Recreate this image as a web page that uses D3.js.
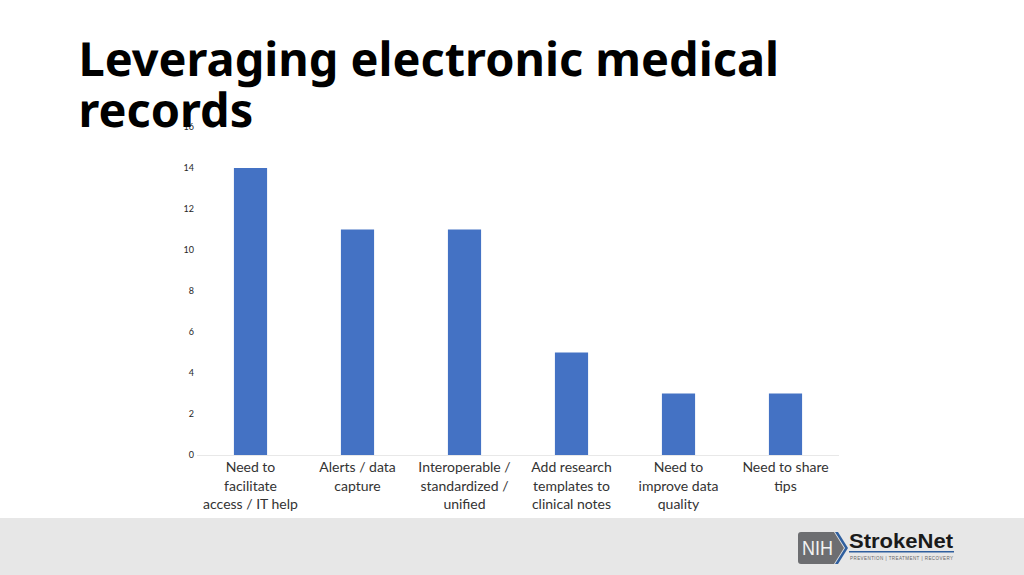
<!DOCTYPE html>
<html>
<head>
<meta charset="utf-8">
<script src="https://cdn.jsdelivr.net/npm/d3@7"></script>
<style>
html, body { margin: 0; padding: 0; background: #fff; overflow: hidden; }
text { font-family: Lato, "Liberation Sans", sans-serif; }
</style>
</head>
<body>
<div id="viz_div"></div>
<script>
var categories = [
	["Need to", "facilitate", "access / IT help"],
	["Alerts / data", "capture"],
	["Interoperable /", "standardized /", "unified"],
	["Add research", "templates to", "clinical notes"],
	["Need to", "improve data", "quality"],
	["Need to share", "tips"]
];
var values = [14, 11, 11, 5, 3, 3];
var y_ticks = [0, 2, 4, 6, 8, 10, 12, 14, 16];
var title_lines = ["Leveraging electronic medical", "records"];

var w = 1024, h = 575;

var svg = d3.select("#viz_div")
	.append("svg")
	.attr("width", w)
	.attr("height", h)
	.style("display", "block");

// footer band goes under everything else
svg.append("rect")
	.attr("x", 0).attr("y", 518)
	.attr("width", w).attr("height", h - 518)
	.attr("fill", "#e7e7e7");

var x = d3.scaleBand()
	.domain(d3.range(categories.length))
	.range([197, 839])
	.paddingInner(0.69)
	.paddingOuter(0.345);

var y = d3.scaleLinear()
	.domain([0, 16])
	.range([455, 127]);

var y_axis = d3.axisLeft(y).tickValues(y_ticks).tickSize(0).tickPadding(3);

var y_g = svg.append("g")
	.attr("transform", "translate(197,0)")
	.call(y_axis);
y_g.select(".domain").remove();
y_g.selectAll("text")
	.style("font-family", "Lato, sans-serif")
	.style("font-size", "9px")
	.attr("fill", "#262626");

svg.selectAll("rect.bar")
	.data(values)
	.enter()
	.append("rect")
	.attr("class", "bar")
	.attr("x", function(d, i) { return x(i); })
	.attr("y", function(d) { return y(d); })
	.attr("width", x.bandwidth())
	.attr("height", function(d) { return y(0) - y(d); })
	.attr("fill", "#4472c4");

// baseline
svg.append("line")
	.attr("x1", 197).attr("x2", 839)
	.attr("y1", y(0) + 0.5).attr("y2", y(0) + 0.5)
	.attr("stroke", "#e8e8e8");

// category labels, wrapped by hand like the original
var cat_g = svg.selectAll("text.cat")
	.data(categories)
	.enter()
	.append("text")
	.attr("class", "cat")
	.attr("text-anchor", "middle")
	.attr("font-size", "14px")
	.attr("fill", "#333");

cat_g.selectAll("tspan")
	.data(function(d, i) {
		return d.map(function(s) { return { s: s, i: i }; });
	})
	.enter()
	.append("tspan")
	.attr("x", function(d) { return x(d.i) + x.bandwidth() / 2; })
	.attr("y", function(d, j) { return 472 + j * 18.5; })
	.text(function(d) { return d.s; });

// title sits on top of the 16 tick, as in the slide
svg.selectAll("text.title")
	.data(title_lines)
	.enter()
	.append("text")
	.attr("class", "title")
	.attr("x", 78.5)
	.attr("y", function(d, i) { return 76 + i * 51; })
	.style("font-family", "'Noto Sans', sans-serif")
	.style("font-weight", "bold")
	.style("font-size", "46.9px")
	.style("text-rendering", "geometricPrecision")
	.attr("fill", "#000")
	.text(function(d) { return d; });

// StrokeNet logo
var logo = svg.append("g");
logo.append("path")
	.attr("d", "M801,532 H834 L844,548 L834,564 H801 Q798,564 798,561 V535 Q798,532 801,532 Z")
	.attr("fill", "#6d6e71");
logo.append("path")
	.attr("d", "M835,532 L838,532 L848,548 L838,564 L835,564 L845,548 Z")
	.attr("fill", "#2f5f9e");
logo.append("text")
	.attr("x", 802).attr("y", 555)
	.style("font-family", "'Liberation Sans', sans-serif")
	.style("font-size", "20px")
	.attr("textLength", 31)
	.attr("lengthAdjust", "spacingAndGlyphs")
	.attr("fill", "#f2f2f2")
	.text("NIH");
logo.append("text")
	.attr("x", 849).attr("y", 548)
	.style("font-family", "'Liberation Sans', sans-serif")
	.style("font-weight", "bold")
	.style("font-size", "21px")
	.attr("textLength", 104)
	.attr("lengthAdjust", "spacingAndGlyphs")
	.attr("fill", "#1a1a1a")
	.text("StrokeNet");
logo.append("rect")
	.attr("x", 849).attr("y", 551)
	.attr("width", 105).attr("height", 1.5)
	.attr("fill", "#2f5f9e");
logo.append("text")
	.attr("x", 850).attr("y", 560)
	.style("font-family", "'Liberation Sans', sans-serif")
	.style("font-size", "4.5px")
	.attr("textLength", 103)
	.attr("fill", "#666")
	.text("PREVENTION | TREATMENT | RECOVERY");
</script>
</body>
</html>
